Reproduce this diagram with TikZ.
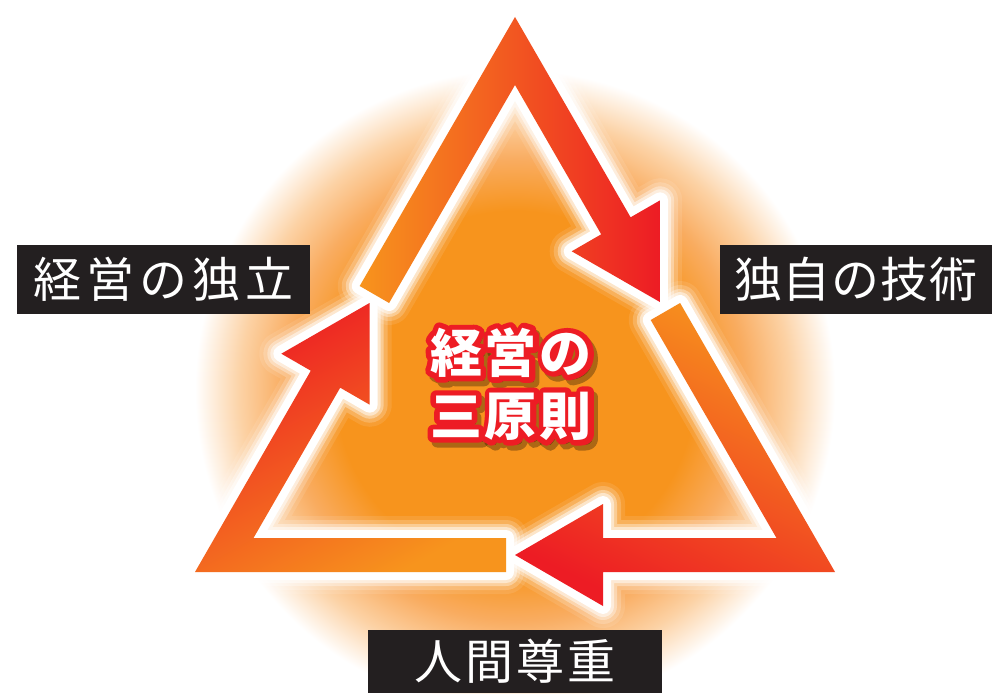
\documentclass[tikz,border=0pt]{standalone}
\usepackage{fontspec}
\newfontfamily\cjk{Noto Sans CJK JP}
\newfontfamily\cjkout[FakeBold=22]{Noto Sans CJK JP Bold}
\usetikzlibrary{calc}
\definecolor{orng}{RGB}{247,148,29}
\definecolor{redc}{RGB}{237,28,36}
\definecolor{boxc}{RGB}{35,31,32}
\definecolor{glowA}{RGB}{249,172,96}
\definecolor{glowB}{RGB}{252,210,165}
\pgfdeclareradialshading{glow}{\pgfpoint{0bp}{0bp}}{color(0bp)=(orng); color(14bp)=(orng); color(18bp)=(glowA); color(21.5bp)=(glowB); color(25bp)=(white); color(50bp)=(white)}
\def\PieceOne{(359.7,286) -- (515,17) -- (630.6,217.3) -- (660.1,200.3) -- (659.9,302) -- (571.7,251.3) -- (601.2,234.3) -- (515,85) -- (389.1,303) -- cycle}
\def\PieceTwo{(680.1,303) -- (835,572) -- (603,572) -- (603,606) -- (515,555) -- (603,504) -- (603,538) -- (776.5,538) -- (650.7,320) -- cycle}
\def\PieceThree{(506,572) -- (195,572) -- (310.8,370.7) -- (281.3,353.7) -- (369.5,303) -- (369.7,404.7) -- (340.2,387.7) -- (253.5,538) -- (506,538) -- cycle}
\newcommand{\CenterText}{経\kern3pt 営\kern3pt の\\三\kern3pt 原\kern3pt 則}
\tikzset{
  lbl/.style={fill=boxc, text=white, font=\cjk\fontsize{48}{48}\selectfont, inner sep=0pt},
  ctxt/.style={font=\cjk\bfseries\fontsize{52}{63}\selectfont, align=center, inner sep=0pt},
  cout/.style={font=\cjkout\fontsize{52}{63}\selectfont, align=center, inner sep=0pt, line join=round, line cap=round},
}
\begin{document}
\begin{tikzpicture}[x=1pt,y=-1pt]
\useasboundingbox (0,0) rectangle (992,693);
\fill[white] (0,0) rectangle (992,693);
\begin{scope}
  \clip (0,0) rectangle (992,693);
  \shade[shading=glow] (515,390) circle (320pt);
\end{scope}
% white halo round the three pieces
\foreach \w/\o in {44/0.1,36/0.2,28/0.35,22/0.5,16/1}{
  \draw[white, line width=\w pt, opacity=\o, line join=round] \PieceOne;
  \draw[white, line width=\w pt, opacity=\o, line join=round] \PieceTwo;
  \draw[white, line width=\w pt, opacity=\o, line join=round] \PieceThree;
}
% the three arrow pieces
\shade[left color=orng, right color=redc] \PieceOne;
\shade[top color=orng, bottom color=redc, shading angle=-26] \PieceTwo;
\shade[top color=redc, bottom color=orng, shading angle=29] \PieceThree;
% labels
\node[lbl, minimum width=293pt, minimum height=69pt] (lA) at (163.5,279.5) {経\kern5pt 営\kern5pt の\kern5pt 独\kern5pt 立};
\node[lbl, minimum width=272pt, minimum height=69pt] (lB) at (856,279.5) {独\kern1pt 自\kern1pt の\kern1pt 技\kern1pt 術};
\node[lbl, minimum width=294pt, minimum height=63pt] (lC) at (515,661.5) {人\kern3pt 間\kern3pt 尊\kern3pt 重};
% centre title: shadow, red outline, white face
\coordinate (ctc) at (511,384);
\node[cout, text=black, opacity=0.3] (sh) at ($(ctc)+(4,5)$) {\CenterText};
\node[cout, text=redc] (ol) at (ctc) {\CenterText};
\node[ctxt, text=white] (ct) at (ctc) {\CenterText};
\end{tikzpicture}
\end{document}
